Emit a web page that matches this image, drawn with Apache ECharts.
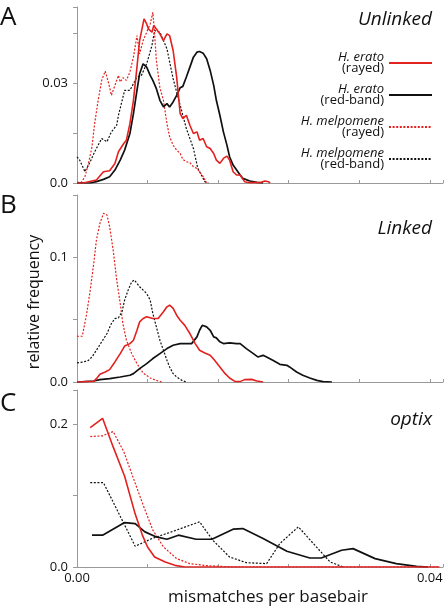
<!DOCTYPE html>
<html><head><meta charset="utf-8">
<script src="https://cdn.jsdelivr.net/npm/echarts@6/dist/echarts.min.js"></script>
<style>html,body{margin:0;padding:0;background:#fff}#c{width:447px;height:607px}</style>
</head><body><div id="c"></div>
<script>
// ---- labels ----
const seriesNames = ['H. erato (rayed)', 'H. erato (red-band)', 'H. melpomene (rayed)', 'H. melpomene (red-band)'];
const legendSpecies = ['H. erato', 'H. erato', 'H. melpomene', 'H. melpomene'];
const legendForms = ['(rayed)', '(red-band)', '(rayed)', '(red-band)'];
const panelLetters = ['A', 'B', 'C'];
const panelTitles = ['Unlinked', 'Linked', 'optix'];
const xTitle = 'mismatches per basebair';
const yTitle = 'relative frequency';
const yMax = [0.053, 0.15, 0.2476];
const yInterval = [0.015, 0.05, 0.1];
const yLabelValues = [[0, 0.03], [0, 0.1], [0, 0.2]];
const yLabelTexts = [['0.0', '0.03'], ['0.0', '0.1'], ['0.0', '0.2']];
const xMax = 0.0415;
const xInterval = 0.008;
const xLabelValues = [0, 0.04];
const xLabelTexts = ['0.00', '0.04'];

// ---- panel A: Unlinked ----
const eratoRayedA = [[0,0],[0.0007,0],[0.0022,0.0009],[0.003,0.0034],[0.0037,0.0037],[0.0043,0.0059],[0.0047,0.0094],[0.0053,0.0119],[0.0056,0.0129],[0.006,0.0179],[0.0064,0.0249],[0.0068,0.0349],[0.0071,0.0429],[0.0076,0.0494],[0.0079,0.0479],[0.0081,0.0464],[0.0085,0.0454],[0.0087,0.0474],[0.009,0.0464],[0.0094,0.0449],[0.0098,0.0429],[0.0102,0.0449],[0.0105,0.0444],[0.0109,0.0399],[0.0113,0.0319],[0.0117,0.0209],[0.012,0.0194],[0.0124,0.0204],[0.0128,0.0174],[0.0132,0.0149],[0.0136,0.0154],[0.0139,0.0129],[0.0143,0.0134],[0.0147,0.0109],[0.0151,0.0104],[0.0155,0.0089],[0.0158,0.0069],[0.0162,0.0059],[0.0166,0.0074],[0.017,0.0081],[0.0173,0.0069],[0.0177,0.0034],[0.0181,0.0024],[0.0185,0.0024],[0.019,0.0004],[0.0196,0.0001],[0.0207,0.0001],[0.0213,0.0006],[0.0217,0.0004],[0.0219,0]];
const eratoRedbandA = [[0,0],[0.0015,0],[0.0022,0.0004],[0.003,0.0011],[0.0037,0.0019],[0.0043,0.0039],[0.0049,0.0069],[0.0054,0.0099],[0.006,0.0149],[0.0064,0.0209],[0.0068,0.0279],[0.0071,0.0329],[0.0075,0.0359],[0.0077,0.0362],[0.0079,0.0349],[0.0083,0.0324],[0.0086,0.0309],[0.009,0.0284],[0.0094,0.0249],[0.0098,0.0229],[0.0102,0.0239],[0.0105,0.0229],[0.0109,0.0244],[0.0113,0.0264],[0.0117,0.0287],[0.012,0.0291],[0.0124,0.0319],[0.0128,0.0349],[0.0132,0.0379],[0.0136,0.0394],[0.0139,0.0396],[0.0143,0.0391],[0.0147,0.0374],[0.0151,0.0339],[0.0155,0.0294],[0.0158,0.0249],[0.0162,0.0204],[0.0166,0.0154],[0.017,0.0114],[0.0173,0.0079],[0.0177,0.0054],[0.0181,0.0039],[0.0185,0.0024],[0.0188,0.0014],[0.0196,0.0006],[0.0204,0.0002],[0.0211,0]];
const melpRayedA = [[0,0.0002],[0.0005,0.0002],[0.0009,0.0019],[0.0013,0.0059],[0.0017,0.0109],[0.002,0.0179],[0.0024,0.0249],[0.0028,0.0309],[0.0032,0.0337],[0.0036,0.0299],[0.0039,0.0264],[0.0043,0.0294],[0.0047,0.0324],[0.0049,0.0304],[0.0052,0.0317],[0.0056,0.0309],[0.006,0.0334],[0.0064,0.0379],[0.0068,0.0444],[0.0071,0.0389],[0.0075,0.0429],[0.0079,0.0454],[0.0083,0.0479],[0.0086,0.0514],[0.0088,0.0449],[0.009,0.0369],[0.0094,0.0287],[0.0098,0.0249],[0.0102,0.0179],[0.0105,0.0139],[0.0109,0.0114],[0.0113,0.0099],[0.0117,0.0089],[0.012,0.0071],[0.0124,0.0064],[0.0128,0.0061],[0.0132,0.0049],[0.0136,0.0044],[0.0139,0.0034],[0.0143,0.0019],[0.0147,0.0001]];
const melpRedbandA = [[0,0.0079],[0.0003,0.0069],[0.0009,0.0034],[0.0015,0.0064],[0.002,0.0094],[0.0028,0.0134],[0.0034,0.0124],[0.0039,0.0154],[0.0045,0.0174],[0.0047,0.0204],[0.0054,0.0279],[0.006,0.0279],[0.0068,0.0319],[0.0073,0.0324],[0.0079,0.0359],[0.0085,0.0414],[0.0088,0.0459],[0.0094,0.0454],[0.0102,0.0404],[0.0109,0.0314],[0.0117,0.0234],[0.0124,0.0164],[0.0132,0.0104],[0.0137,0.0044],[0.0145,0.0004],[0.0149,0]];

// ---- panel B: Linked ----
const eratoRayedB = [[0,0],[0.0019,0.0005],[0.0022,0.0027],[0.0026,0.0062],[0.0032,0.008],[0.0037,0.0099],[0.0043,0.0161],[0.0049,0.0228],[0.0054,0.0288],[0.006,0.0308],[0.0064,0.0335],[0.0068,0.0415],[0.0071,0.0482],[0.0075,0.0509],[0.0079,0.0523],[0.0083,0.0515],[0.0086,0.0509],[0.0092,0.0509],[0.0098,0.0563],[0.0102,0.0603],[0.0105,0.0616],[0.0109,0.059],[0.0113,0.0536],[0.0117,0.0496],[0.0122,0.0456],[0.0128,0.0389],[0.0134,0.0308],[0.0139,0.0255],[0.0145,0.0233],[0.0151,0.0214],[0.0156,0.0174],[0.0162,0.0121],[0.0168,0.0067],[0.0173,0.0032],[0.0179,0.0005],[0.0185,0.0003],[0.019,0.0019],[0.0198,0.0021],[0.0204,0.0008],[0.0211,0]];
const eratoRedbandB = [[0,0],[0.0019,0.0008],[0.0026,0.0019],[0.0037,0.0027],[0.0049,0.004],[0.006,0.0054],[0.0064,0.0067],[0.0071,0.0107],[0.0079,0.0147],[0.0086,0.0188],[0.0094,0.0228],[0.0102,0.0268],[0.0109,0.0295],[0.0117,0.0308],[0.0124,0.0308],[0.013,0.0308],[0.0136,0.0362],[0.0139,0.0415],[0.0142,0.0455],[0.0147,0.0442],[0.0151,0.0415],[0.0155,0.0362],[0.0158,0.0354],[0.0162,0.0322],[0.0166,0.0308],[0.0173,0.0314],[0.0181,0.0308],[0.0185,0.0308],[0.0192,0.0268],[0.02,0.0228],[0.0205,0.0201],[0.0211,0.0214],[0.0215,0.0201],[0.0222,0.0174],[0.023,0.0142],[0.0238,0.0134],[0.0241,0.0121],[0.0249,0.008],[0.0256,0.0054],[0.0264,0.0032],[0.0272,0.0013],[0.0279,0.0003],[0.0289,0]];
const melpRayedB = [[0,0.0367],[0.0006,0.0367],[0.0011,0.0549],[0.0015,0.0737],[0.0019,0.0952],[0.0022,0.1139],[0.0026,0.1273],[0.003,0.1353],[0.0034,0.134],[0.0037,0.1246],[0.0041,0.1058],[0.0045,0.0819],[0.0049,0.063],[0.0052,0.0469],[0.0056,0.0335],[0.0062,0.0228],[0.0068,0.0147],[0.0075,0.0072],[0.0083,0.0032],[0.009,0.0013],[0.0096,0]];
const melpRedbandB = [[0,0.0153],[0.0007,0.016],[0.0013,0.0174],[0.0017,0.0201],[0.0022,0.0255],[0.0028,0.0322],[0.0034,0.0389],[0.0039,0.0469],[0.0043,0.0509],[0.0047,0.0515],[0.0051,0.0563],[0.0054,0.0657],[0.0058,0.0737],[0.0062,0.0804],[0.0065,0.0818],[0.0068,0.0791],[0.0071,0.0764],[0.0075,0.0737],[0.0079,0.071],[0.0083,0.0657],[0.0086,0.0549],[0.009,0.0442],[0.0094,0.0335],[0.0098,0.0255],[0.0102,0.0174],[0.0105,0.0121],[0.0109,0.0067],[0.0113,0.004],[0.0119,0.0013],[0.0124,0]];

// ---- panel C: optix ----
const eratoRayedC = [[0.0015,0.195],[0.0029,0.208],[0.0041,0.168],[0.0054,0.127],[0.0066,0.074],[0.0074,0.045],[0.008,0.028],[0.0088,0.014],[0.01,0.007],[0.0111,0.0023],[0.0122,0],[0.0411,0]];
const eratoRedbandC = [[0.0017,0.0445],[0.0029,0.0445],[0.0054,0.0622],[0.0066,0.0608],[0.0077,0.0491],[0.009,0.0421],[0.0102,0.0388],[0.0115,0.0445],[0.0135,0.0388],[0.0153,0.0388],[0.0177,0.0529],[0.0188,0.0538],[0.0211,0.0398],[0.0238,0.022],[0.0264,0.0126],[0.0277,0.0126],[0.03,0.0234],[0.0313,0.0257],[0.0338,0.0117],[0.0362,0.0047],[0.0385,0.0009],[0.0398,0]];
const melpRayedC = [[0.0015,0.1825],[0.0029,0.1835],[0.0041,0.1895],[0.0053,0.1615],[0.0064,0.124],[0.0075,0.0866],[0.0086,0.0515],[0.0098,0.0281],[0.0113,0.0117],[0.0128,0.0047],[0.0147,0.0019],[0.0177,0],[0.0411,0]];
const melpRedbandC = [[0.0015,0.118],[0.003,0.118],[0.0066,0.029],[0.0085,0.0398],[0.0107,0.0491],[0.0139,0.0632],[0.0154,0.0374],[0.0173,0.014],[0.0192,0.0061],[0.0215,0.0047],[0.023,0.0328],[0.0251,0.0562],[0.0268,0.0328],[0.0287,0.007],[0.0302,0]];

const panelData = [
  [eratoRayedA, eratoRedbandA, melpRayedA, melpRedbandA],
  [eratoRayedB, eratoRedbandB, melpRayedB, melpRedbandB],
  [eratoRayedC, eratoRedbandC, melpRayedC, melpRedbandC]
];

// ---- styling ----
const RED = '#e3211f';
const lineStyles = [
  { color: RED, width: 1.6, type: 'solid' },
  { color: '#111', width: 1.7, type: 'solid' },
  { color: RED, width: 1.2, type: [2, 1.6] },
  { color: '#111', width: 1.2, type: [2, 1.6] }
];
const zOrder = [4, 3, 2, 1];
const FONT = 'Open Sans';
const AXIS_GRAY = '#9a9a9a';
const grids = [
  { left: 77, top: 7, width: 366, height: 176 },
  { left: 77, top: 195, width: 366, height: 187 },
  { left: 77, top: 390, width: 366, height: 177 }
];
const letterTops = [5, 193, 391];
const titleTops = [10, 219, 410];

function near(a, b) { return Math.abs(a - b) < 1e-9; }

const option = {
  animation: false,
  backgroundColor: '#fff',
  grid: grids.map(g => Object.assign({ outerBoundsMode: 'none', containLabel: false }, g)),
  xAxis: grids.map((g, i) => ({
    type: 'value', gridIndex: i, min: 0, max: xMax, interval: xInterval,
    axisLine: { show: true, lineStyle: { color: AXIS_GRAY, width: 1 } },
    axisTick: { show: true, inside: true, length: 3, lineStyle: { color: AXIS_GRAY } },
    splitLine: { show: false },
    axisLabel: {
      show: i === 2, margin: 5, fontFamily: FONT, fontSize: 13, color: '#111',
      showMaxLabel: true, showMinLabel: true, hideOverlap: false,
      formatter: v => { for (let k = 0; k < xLabelValues.length; k++) if (near(v, xLabelValues[k])) return xLabelTexts[k]; return ''; }
    }
  })),
  yAxis: grids.map((g, i) => ({
    type: 'value', gridIndex: i, min: 0, max: yMax[i], interval: yInterval[i],
    axisLine: { show: true, lineStyle: { color: AXIS_GRAY, width: 1 } },
    axisTick: { show: true, inside: false, length: 4, lineStyle: { color: AXIS_GRAY } },
    splitLine: { show: false },
    axisLabel: {
      margin: 9, fontFamily: FONT, fontSize: 13, color: '#111', showMaxLabel: true, hideOverlap: false,
      formatter: v => { const vals = yLabelValues[i]; for (let k = 0; k < vals.length; k++) if (near(v, vals[k])) return yLabelTexts[i][k]; return ''; }
    }
  })),
  legend: {
    show: true, selectedMode: false, orient: 'vertical', align: 'right',
    right: 14, top: 51, padding: 0, itemWidth: 43, itemHeight: 10, itemGap: 8,
    data: seriesNames,
    itemStyle: { color: 'rgba(0,0,0,0)', borderWidth: 0, opacity: 0 },
    formatter: name => { const k = seriesNames.indexOf(name); return '{s|' + legendSpecies[k] + '}\n{f|' + legendForms[k] + '}'; },
    textStyle: {
      fontFamily: FONT, color: '#111',
      rich: {
        s: { fontFamily: FONT, fontStyle: 'italic', fontSize: 13, lineHeight: 11, color: '#111' },
        f: { fontFamily: FONT, fontSize: 13, lineHeight: 11, color: '#111' }
      }
    }
  },
  series: [],
  graphic: []
};

panelData.forEach((list, i) => {
  list.forEach((data, k) => {
    option.series.push({
      type: 'line', name: seriesNames[k], xAxisIndex: i, yAxisIndex: i,
      data: data, symbol: 'none', showSymbol: false, smooth: false,
      lineStyle: lineStyles[k], itemStyle: { color: lineStyles[k].color }, z: zOrder[k],
      emphasis: { disabled: true }
    });
  });
  option.graphic.push({
    type: 'text', left: 0, top: letterTops[i],
    style: { text: panelLetters[i], fontFamily: FONT, fontSize: 26, fill: '#111' }
  });
  option.graphic.push({
    type: 'text', right: 15, top: titleTops[i],
    style: { text: panelTitles[i], fontFamily: FONT, fontStyle: 'italic', fontSize: 19, fill: '#111' }
  });
});
option.graphic.push({
  type: 'text', x: 268, y: 597,
  style: { text: xTitle, fontFamily: FONT, fontSize: 17, fill: '#111', align: 'center', verticalAlign: 'middle', textAlign: 'center', textVerticalAlign: 'middle' }
});
option.graphic.push({
  type: 'text', x: 34, y: 302, rotation: Math.PI / 2,
  style: { text: yTitle, fontFamily: FONT, fontSize: 16, fill: '#111', align: 'center', verticalAlign: 'middle', textAlign: 'center', textVerticalAlign: 'middle' }
});

const chart = echarts.init(document.getElementById('c'), null, { renderer: 'canvas' });
chart.setOption(option);
</script>
</body></html>
